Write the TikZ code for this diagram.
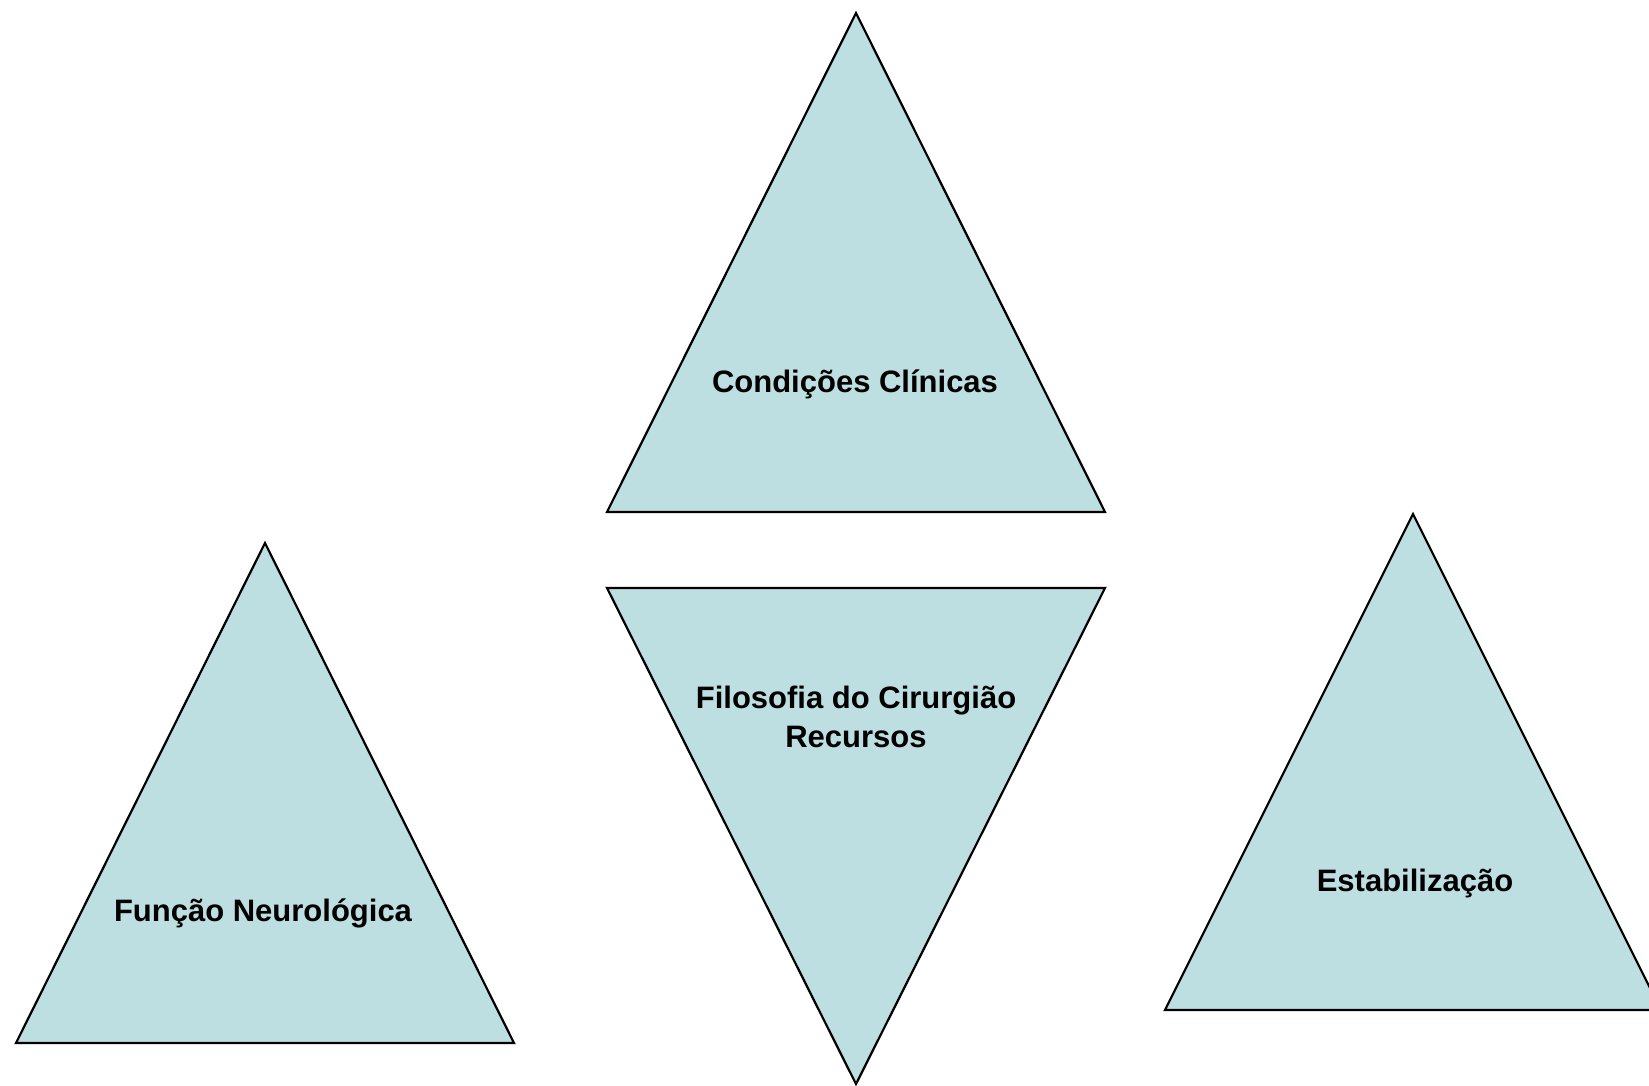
\documentclass[tikz,border=0pt]{standalone}
\usepackage{fontspec}
\setmainfont{Liberation Sans}
\definecolor{trifill}{RGB}{189,223,226}
\begin{document}
\begin{tikzpicture}[x=1pt,y=-1pt,
  tri/.style={fill=trifill,draw=black,line width=2.2pt,line join=miter},
  lbl/.style={font=\bfseries\fontsize{31}{39}\selectfont,text=black,inner sep=0pt,anchor=base,align=center}]
\useasboundingbox (0,0) rectangle (1649,1086);
% top triangle
\coordinate (tA) at (856,13);
\coordinate (tL) at (607,512);
\coordinate (tR) at (1105,512);
\draw[tri] (tA) -- (tR) -- (tL) -- cycle;
% inverted triangle
\coordinate (bA) at (856,1084);
\coordinate (bL) at (607,588);
\coordinate (bR) at (1105,588);
\draw[tri] (bA) -- (bR) -- (bL) -- cycle;
% left triangle
\coordinate (lA) at (265,543);
\coordinate (lL) at (16,1043);
\coordinate (lR) at (514,1043);
\draw[tri] (lA) -- (lR) -- (lL) -- cycle;
% right triangle
\coordinate (rA) at (1413,514);
\coordinate (rL) at (1165,1010);
\coordinate (rR) at (1661,1010);
\draw[tri] (rA) -- (rR) -- (rL) -- cycle;
% labels
\node[lbl] (cond) at (855,392) {Condições Clínicas};
\node[lbl] (filo1) at (856,708) {Filosofia do Cirurgião};
\node[lbl] (filo2) at (856,747) {Recursos};
\node[lbl] (func) at (263,921) {Função Neurológica};
\node[lbl] (estab) at (1415,891) {Estabilização};
\end{tikzpicture}
\end{document}
